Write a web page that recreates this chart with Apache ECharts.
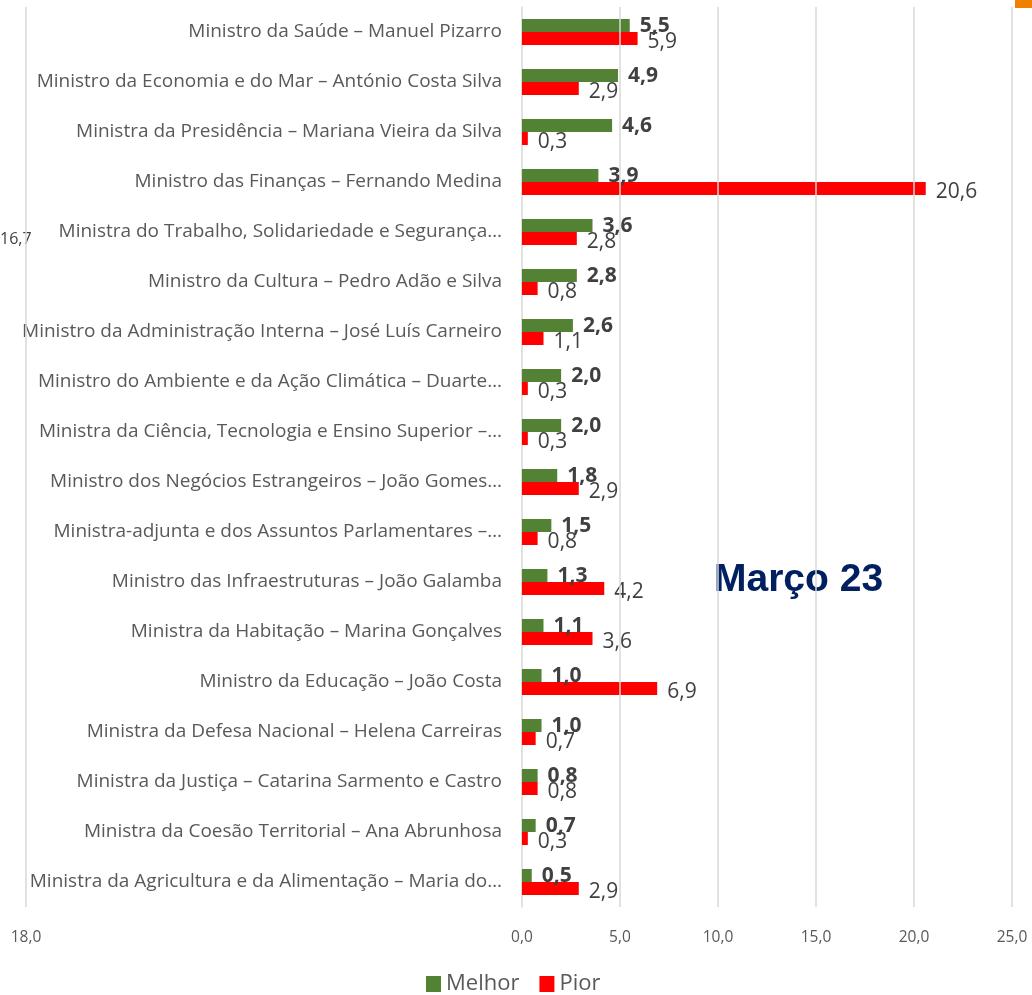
<!DOCTYPE html>
<html>
<head>
<meta charset="utf-8">
<script src="https://cdn.jsdelivr.net/npm/echarts@6/dist/echarts.min.js"></script>
<style>
  html, body { margin: 0; padding: 0; background: #fff; }
  #chart { width: 1032px; height: 995px; }
</style>
</head>
<body>
<div id="chart"></div>
<script>
var ministers = [
  'Ministro da Saúde – Manuel Pizarro',
  'Ministro da Economia e do Mar – António Costa Silva',
  'Ministra da Presidência – Mariana Vieira da Silva',
  'Ministro das Finanças – Fernando Medina',
  'Ministra do Trabalho, Solidariedade e Segurança…',
  'Ministro da Cultura – Pedro Adão e Silva',
  'Ministro da Administração Interna – José Luís Carneiro',
  'Ministro do Ambiente e da Ação Climática – Duarte…',
  'Ministra da Ciência, Tecnologia e Ensino Superior –…',
  'Ministro dos Negócios Estrangeiros – João Gomes…',
  'Ministra-adjunta e dos Assuntos Parlamentares –…',
  'Ministro das Infraestruturas – João Galamba',
  'Ministra da Habitação – Marina Gonçalves',
  'Ministro da Educação – João Costa',
  'Ministra da Defesa Nacional – Helena Carreiras',
  'Ministra da Justiça – Catarina Sarmento e Castro',
  'Ministra da Coesão Territorial – Ana Abrunhosa',
  'Ministra da Agricultura e da Alimentação – Maria do…'
]
var melhor = [5.5, 4.9, 4.6, 3.9, 3.6, 2.8, 2.6, 2.0, 2.0, 1.8, 1.5, 1.3, 1.1, 1.0, 1.0, 0.8, 0.7, 0.5]
var pior = [5.9, 2.9, 0.3, 20.6, 2.8, 0.8, 1.1, 0.3, 0.3, 2.9, 0.8, 4.2, 3.6, 6.9, 0.7, 0.8, 0.3, 2.9]

// x axis: left end is a stray secondary scale in the original
var xMin = -25.3
var xTicks = [0, 5, 10, 15, 20, 25]
var leftTickLabel = '18,0'
var strayLabel = '16,7'
var title = 'Março 23'

function fmt (v) {
  return v.toFixed(1).replace('.', ',')
}

var gridLines = [xMin].concat(xTicks.slice(1)).map(function (v) {
  return { xAxis: v }
})

var chart = echarts.init(document.getElementById('chart'))
chart.setOption({
  textStyle: { fontFamily: 'Open Sans' },
  grid: { left: 26, right: 20, top: 7, bottom: 88, containLabel: false, outerBoundsMode: 'none' },
  legend: {
    bottom: -5,
    left: 421,
    itemWidth: 15,
    itemHeight: 16,
    itemGap: 20,
    icon: 'rect',
    textStyle: { fontSize: 22, color: '#595959' },
    data: ['Melhor', 'Pior']
  },
  xAxis: {
    type: 'value',
    min: xMin,
    max: 25,
    splitLine: { show: false },
    axisLine: { show: false },
    axisTick: { show: false },
    axisLabel: {
      customValues: [xMin].concat(xTicks),
      margin: 23,
      fontSize: 15.5,
      color: '#595959',
      formatter: function (v) {
        return v < 0 ? leftTickLabel : fmt(v)
      }
    }
  },
  yAxis: {
    type: 'category',
    inverse: true,
    position: 'left',
    offset: -496, // sits on the 0 line, like the Excel chart
    data: ministers,
    axisLine: { onZero: false, lineStyle: { color: '#d9d9d9', width: 1.5 } },
    axisTick: { show: false },
    axisLabel: { fontSize: 19, color: '#595959', margin: 20 }
  },
  series: [
    {
      name: 'grid',
      type: 'line',
      data: [],
      silent: true,
      z: 0,
      markLine: {
        silent: true,
        symbol: 'none',
        label: { show: false },
        lineStyle: { color: '#d9d9d9', width: 1.5, type: 'solid' },
        data: gridLines
      }
    },
    {
      name: 'Melhor',
      type: 'bar',
      data: melhor,
      barWidth: 13,
      barGap: '0%',
      z: 3,
      itemStyle: { color: '#548235' },
      label: {
        show: true,
        position: 'right',
        distance: 10,
        offset: [0, 1],
        fontSize: 21,
        fontWeight: 'bold',
        color: '#404040',
        formatter: function (p) { return fmt(p.value) }
      }
    },
    {
      name: 'Pior',
      type: 'bar',
      data: pior,
      barWidth: 13,
      barGap: '0%',
      z: 3,
      itemStyle: { color: '#ff0000' },
      label: {
        show: true,
        position: 'right',
        distance: 10,
        offset: [0, 4],
        fontSize: 21,
        color: '#404040',
        formatter: function (p) { return fmt(p.value) }
      }
    }
  ],
  graphic: [
    {
      type: 'text',
      left: 714,
      top: 561,
      style: {
        text: title,
        font: 'bold 39px "Liberation Sans", Arial, sans-serif',
        fill: '#002060'
      }
    },
    {
      type: 'text',
      left: 0,
      top: 231,
      style: {
        text: strayLabel,
        font: '16px "Open Sans"',
        fill: '#404040'
      }
    },
    {
      type: 'rect',
      right: 0,
      top: 0,
      shape: { width: 17, height: 8 },
      style: { fill: '#f08000' }
    }
  ]
})
</script>
</body>
</html>
